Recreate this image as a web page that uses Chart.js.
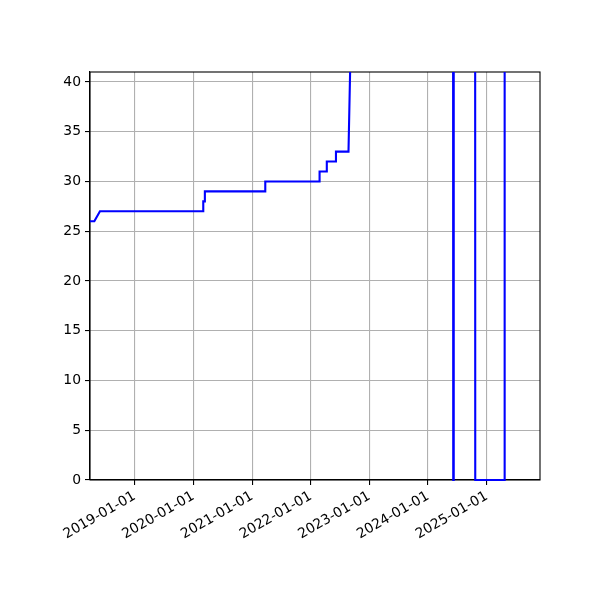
<!DOCTYPE html>
<html>
<head>
<meta charset="utf-8">
<script src="https://cdn.jsdelivr.net/npm/chart.js@4/dist/chart.umd.min.js"></script>
<style>
html,body{margin:0;padding:0;background:#fff;}
#wrap{width:600px;height:600px;}
</style>
</head>
<body>
<div id="wrap"><canvas id="c" width="600" height="600"></canvas></div>
<script>
// Data (values above 41 are off-chart)
const dates = ['2018-03-29','2018-04-25','2018-05-30','2020-03-02','2020-03-03','2020-03-12','2020-03-13',
  '2021-03-23','2021-03-24','2022-02-24','2022-02-25','2022-04-10','2022-04-11','2022-06-06','2022-06-07',
  '2022-08-24','2022-09-08','2022-10-15','2024-06-03','2024-06-06','2024-06-09','2024-10-19','2024-10-21',
  '2025-04-20','2025-04-22','2025-09-30'];
const values = [26,26,27,27,28,28,29,29,30,30,31,31,32,32,33,33,45,150,150,0,150,150,0,0,150,150];
const xTickDates = ['2019-01-01','2020-01-01','2021-01-01','2022-01-01','2023-01-01','2024-01-01','2025-01-01'];
const yTicks = [0,5,10,15,20,25,30,35,40];
const xRange = ['2018-03-29','2025-11-28'];
const yRange = [0,41];

const toMs = s => Date.parse(s + 'T00:00:00Z');
const fmt = ms => new Date(ms).toISOString().slice(0,10);
const points = dates.map((d,i)=>({x:toMs(d), y:values[i]}));

const frame = {
  id:'frame',
  beforeDatasetsDraw(chart){
    const a = chart.chartArea, ctx = chart.ctx;
    ctx.save();
    ctx.strokeStyle = '#000';
    ctx.lineWidth = 1.1;
    ctx.strokeRect(a.left, a.top, a.right-a.left, a.bottom-a.top);
    ctx.restore();
  }
};

const font = {family:'DejaVu Sans', size:13.9};
new Chart(document.getElementById('c'), {
  type:'line',
  data:{datasets:[{data:points, borderColor:'#0000ff', borderWidth:2.1, pointRadius:0, tension:0, fill:false,
    clip:{left:1, right:1, top:0, bottom:2}}]},
  options:{
    responsive:false, animation:false,
    layout:{padding:{top:72, right:60, left:0, bottom:0}},
    plugins:{legend:{display:false}, tooltip:{enabled:false}},
    scales:{
      x:{
        type:'linear', min:toMs(xRange[0]), max:toMs(xRange[1]),
        afterBuildTicks(s){ s.ticks = xTickDates.map(d=>({value:toMs(d)})); },
        afterFit(s){ s.height = 120; s.paddingLeft = 0; s.paddingRight = 0; },
        ticks:{callback:v=>fmt(v), color:'#000', font, maxRotation:30, minRotation:30, padding:3, autoSkip:false},
        grid:{color:'#b0b0b0', lineWidth:1.1, tickColor:'#000', tickLength:5, tickWidth:1.1},
        border:{color:'#000', width:1.1}
      },
      y:{
        min:yRange[0], max:yRange[1],
        afterBuildTicks(s){ s.ticks = yTicks.map(v=>({value:v})); },
        afterFit(s){ s.width = 90; },
        ticks:{color:'#000', font, padding:4},
        grid:{color:'#b0b0b0', lineWidth:1.1, tickColor:'#000', tickLength:5, tickWidth:1.1},
        border:{color:'#000', width:1.1}
      }
    }
  },
  plugins:[frame]
});
</script>
</body>
</html>
